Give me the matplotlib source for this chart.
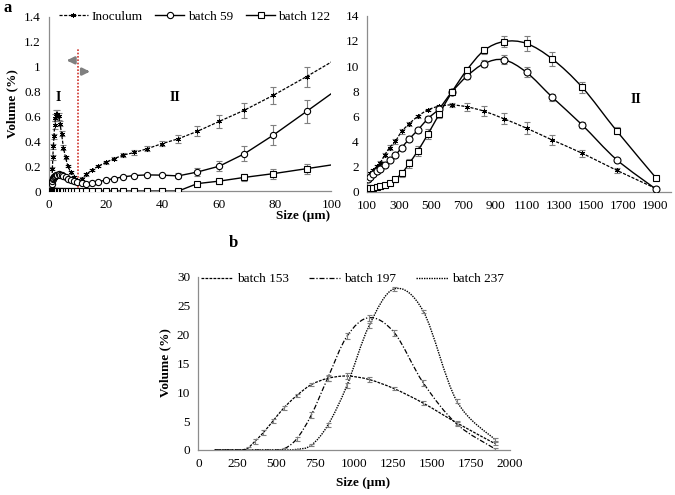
import numpy as np
import matplotlib
matplotlib.use("Agg")
import matplotlib.pyplot as plt
from matplotlib.path import Path
from matplotlib.patches import PathPatch
from matplotlib.lines import Line2D
from matplotlib.ticker import FuncFormatter

plt.rcParams['font.family'] = ['Liberation Serif', 'DejaVu Serif']
plt.rcParams['font.size'] = 9

# --- panel a, left: size bins up to 100 um
size_small = [0.550, 0.631, 0.724, 0.832, 0.955, 1.096, 1.259, 1.445, 1.660, 1.905,
              2.188, 2.512, 2.884, 3.311, 3.802, 4.365, 5.012, 5.754, 6.607, 7.586,
              8.710, 10.00, 11.48, 13.18, 15.14, 17.38, 19.95, 22.91, 26.30, 30.20,
              34.67, 39.81, 45.71, 52.48, 60.26, 69.18, 79.43, 91.20, 104.7]
inoc_small = [0, 0, 0, 0.01, 0.10, 0.18, 0.27, 0.36, 0.44, 0.53,
              0.59, 0.62, 0.62, 0.60, 0.54, 0.46, 0.35, 0.27, 0.20, 0.15,
              0.11, 0.09, 0.10, 0.135, 0.17, 0.20, 0.23, 0.26, 0.29, 0.31,
              0.34, 0.38, 0.42, 0.48, 0.56, 0.65, 0.77, 0.92, 1.10]
b59_small = [0, 0, 0, 0.01, 0.06, 0.08, 0.095, 0.105, 0.115, 0.12,
             0.125, 0.13, 0.133, 0.135, 0.133, 0.128, 0.12, 0.11, 0.10, 0.09,
             0.08, 0.07, 0.062, 0.06, 0.067, 0.075, 0.088, 0.10, 0.115, 0.125,
             0.13, 0.128, 0.122, 0.153, 0.20, 0.30, 0.45, 0.64, 0.86]
b122_small = [0] * 33 + [0.06, 0.08, 0.11, 0.14, 0.18, 0.226]
inoc_small_err = [0, 0, 0, 0, 0.01, 0.01, 0.02, 0.02, 0.02, 0.03,
                  0.03, 0.03, 0.03, 0.03, 0.02, 0.02, 0.02, 0.01, 0.01, 0.01,
                  0.01, 0.01, 0.01, 0.01, 0.01, 0.01, 0.01, 0.01, 0.015, 0.02,
                  0.02, 0.02, 0.03, 0.04, 0.05, 0.06, 0.07, 0.08, 0.09]
b59_small_err = [0] * 32 + [0.02, 0.03, 0.04, 0.06, 0.08, 0.09, 0.09]
b122_small_err = [0] * 33 + [0.015, 0.02, 0.03, 0.04, 0.04, 0.04]

# --- panel a, right and panel b: size bins above 100 um
size_large = [104.7, 120.2, 138.0, 158.5, 182.0, 208.9, 239.9, 275.4, 316.2, 363.1, 416.9,
              478.6, 549.5, 631.0, 724.4, 831.8, 955.0, 1096.5, 1258.9, 1445.4, 1659.6, 1905.5]
inoc_large = [1.2, 1.45, 1.7, 2.0, 2.3, 2.9, 3.5, 4.0, 4.8, 5.4, 6.0,
              6.5, 6.8, 6.9, 6.75, 6.4, 5.8, 5.05, 4.1, 3.05, 1.7, 0.25]
b59_large = [1.0, 1.2, 1.4, 1.6, 1.8, 2.1, 2.5, 2.9, 3.5, 4.2, 4.9,
             5.8, 6.6, 7.95, 9.2, 10.2, 10.5, 9.5, 7.5, 5.3, 2.55, 0.2]
b122_large = [0.25, 0.28, 0.32, 0.36, 0.42, 0.5, 0.7, 1.0, 1.45, 2.25, 3.25,
              4.55, 6.15, 7.95, 9.7, 11.25, 11.95, 11.8, 10.55, 8.3, 4.85, 1.1]
inoc_large_err = [0.1, 0.1, 0.1, 0.1, 0.15, 0.15, 0.2, 0.2, 0.2, 0.15, 0.1,
                  0.1, 0.1, 0.15, 0.3, 0.4, 0.45, 0.5, 0.4, 0.3, 0.2, 0.1]
b59_large_err = [0.1, 0.1, 0.1, 0.1, 0.1, 0.1, 0.1, 0.15, 0.15, 0.2, 0.2,
                 0.25, 0.2, 0.2, 0.2, 0.25, 0.35, 0.4, 0.3, 0.25, 0.15, 0.1]
b122_large_err = [0.05, 0.05, 0.05, 0.05, 0.05, 0.1, 0.1, 0.2, 0.3, 0.35, 0.4,
                  0.4, 0.3, 0.2, 0.2, 0.3, 0.45, 0.6, 0.55, 0.45, 0.3, 0.15]

b153 = [0, 0, 0, 0, 0, 0, 0, 0, 0.3, 1.5, 3.0,
        5.0, 7.3, 9.4, 11.3, 12.4, 12.8, 12.2, 10.6, 8.1, 4.7, 1.1]
b197 = [0, 0, 0, 0, 0, 0, 0, 0, 0, 0, 0,
        0, 0.2, 1.9, 6.0, 12.5, 19.7, 22.9, 20.3, 11.6, 4.5, 0.2]
b237 = [0, 0, 0, 0, 0, 0, 0, 0, 0, 0, 0,
        0, 0, 0.1, 0.8, 4.3, 11.2, 21.5, 27.9, 24.0, 8.5, 1.8]
b153_err = [0, 0, 0, 0, 0, 0, 0, 0, 0.2, 0.4, 0.4,
            0.4, 0.3, 0.3, 0.3, 0.4, 0.5, 0.4, 0.3, 0.3, 0.3, 0.2]
b197_err = [0, 0, 0, 0, 0, 0, 0, 0, 0, 0, 0,
            0, 0.2, 0.3, 0.5, 0.5, 0.5, 0.5, 0.5, 0.5, 0.4, 0.2]
b237_err = [0, 0, 0, 0, 0, 0, 0, 0, 0, 0, 0,
            0, 0, 0.1, 0.2, 0.3, 0.4, 0.4, 0.3, 0.3, 0.3, 0.2]

SPINE = '#8c8c8c'
ERR = '#7f7f7f'
star = (6, 2, 0)


def smooth_path(x, y):
    # catmull-rom style bezier through the points (like excel smoothed lines)
    pts = np.column_stack([x, y]).astype(float)
    n = len(pts)
    verts = [pts[0]]
    codes = [Path.MOVETO]
    for i in range(n - 1):
        p0 = pts[i - 1] if i > 0 else pts[i]
        p1, p2 = pts[i], pts[i + 1]
        p3 = pts[i + 2] if i + 2 < n else pts[i + 1]
        verts += [p1 + (p2 - p0) / 6, p2 - (p3 - p1) / 6, p2]
        codes += [Path.CURVE4] * 3
    return Path(verts, codes)


def err_bars(ax, x, y, e, cap=2):
    x, y, e = np.array(x), np.array(y), np.array(e)
    m = e > 0
    ax.errorbar(x[m], y[m], yerr=e[m], fmt='none', ecolor=ERR, elinewidth=0.8,
                capsize=cap, capthick=0.8, zorder=2)


def style_axes(ax):
    for s in ['top', 'right']:
        ax.spines[s].set_visible(False)
    for s in ['left', 'bottom']:
        ax.spines[s].set_color(SPINE)
        ax.spines[s].set_linewidth(0.9)
    ax.tick_params(length=0, labelsize=9.5, pad=6)


fig = plt.figure(figsize=(6.75, 4.95), dpi=100)

# ---------------- panel a left
ax1 = fig.add_axes([0.073, 0.614, 0.418, 0.352])
style_axes(ax1)
err_bars(ax1, size_small, inoc_small, inoc_small_err)
err_bars(ax1, size_small, b59_small, b59_small_err)
err_bars(ax1, size_small, b122_small, b122_small_err)
ax1.plot(size_small, inoc_small, color='black', ls=(0, (2.5, 1.2)), lw=0.9,
         marker=star, ms=3.5, mew=0.7, zorder=3)
ax1.plot(size_small, b59_small, color='black', lw=1, marker='o', ms=4.5,
         mfc='white', mec='black', mew=0.8, zorder=3)
ax1.plot(size_small, b122_small, color='black', lw=1, marker='s', ms=4.2,
         mfc='white', mec='black', mew=0.8, zorder=3)
ax1.set_xlim(0, 100)
ax1.set_ylim(0, 1.4)
ax1.set_xticks(np.arange(0, 101, 20))
ax1.set_yticks(np.arange(0, 1.41, 0.2))
ax1.yaxis.set_major_formatter(FuncFormatter(lambda v, p: f'{v:g}'))
ax1.plot([10.2, 10.2], [0, 1.14], color='#d0342c', ls=(0, (1, 1)), lw=1.2, zorder=1)
ax1.annotate('', xy=(5.2, 1.05), xytext=(9.2, 1.05),
             arrowprops=dict(arrowstyle='-|>', color='#808080', lw=2, mutation_scale=10))
ax1.annotate('', xy=(15.4, 0.96), xytext=(11.4, 0.96),
             arrowprops=dict(arrowstyle='-|>', color='#808080', lw=2, mutation_scale=10))
ax1.text(3.2, 0.75, 'I', fontsize=10, fontweight='bold', ha='center', va='center')
ax1.text(44.5, 0.75, 'II', fontsize=10, fontweight='bold', ha='center', va='center')

handles = [Line2D([], [], color='black', ls=(0, (2.5, 1.2)), lw=0.9, marker=star, ms=3.5, mew=0.7),
           Line2D([], [], color='black', lw=1, marker='o', ms=4.5, mfc='white', mew=0.8),
           Line2D([], [], color='black', lw=1, marker='s', ms=4.2, mfc='white', mew=0.8)]
ax1.legend(handles, ['Inoculum', 'batch 59', 'batch 122'], loc='center', ncol=3,
           bbox_to_anchor=(0.515, 1.0), frameon=False, fontsize=9.5, handlelength=2.2,
           handletextpad=0.25, columnspacing=1.0)

# ---------------- panel a right
ax2 = fig.add_axes([0.544, 0.613, 0.450, 0.355])
style_axes(ax2)
err_bars(ax2, size_large, inoc_large, inoc_large_err)
err_bars(ax2, size_large, b59_large, b59_large_err)
err_bars(ax2, size_large, b122_large, b122_large_err)
ax2.add_patch(PathPatch(smooth_path(size_large, inoc_large), fill=False, ec='black',
                        lw=0.9, ls=(0, (2.5, 1.2)), zorder=3))
ax2.add_patch(PathPatch(smooth_path(size_large, b59_large), fill=False, ec='black', lw=1, zorder=3))
ax2.add_patch(PathPatch(smooth_path(size_large, b122_large), fill=False, ec='black', lw=1, zorder=3))
ax2.plot(size_large, inoc_large, ls='none', color='black', marker=star, ms=3.5, mew=0.7, zorder=4)
ax2.plot(size_large, b59_large, ls='none', marker='o', ms=5, mfc='white', mec='black',
         mew=0.8, zorder=4)
ax2.plot(size_large, b122_large, ls='none', marker='s', ms=4.8, mfc='white', mec='black',
         mew=0.8, zorder=4)
ax2.set_xlim(100, 2000)
ax2.set_ylim(0, 14)
ax2.set_xticks(np.arange(100, 2000, 200))
ax2.set_yticks(np.arange(0, 15, 2))
ax2.text(1780, 7.3, 'II', fontsize=10, fontweight='bold', ha='center', va='center')

# ---------------- panel b
ax3 = fig.add_axes([0.294, 0.091, 0.461, 0.350])
style_axes(ax3)
err_bars(ax3, size_large, b153, b153_err, cap=1.8)
err_bars(ax3, size_large, b197, b197_err, cap=1.8)
err_bars(ax3, size_large, b237, b237_err, cap=1.8)
ls153 = (0, (2.2, 1.0))
ls197 = (0, (4, 1.5, 1, 1.5))
ls237 = (0, (1, 0.8))
ax3.add_patch(PathPatch(smooth_path(size_large, b153), fill=False, ec='black', lw=0.9, ls=ls153))
ax3.add_patch(PathPatch(smooth_path(size_large, b197), fill=False, ec='black', lw=0.9, ls=ls197))
ax3.add_patch(PathPatch(smooth_path(size_large, b237), fill=False, ec='black', lw=1.0, ls=ls237))
ax3.set_xlim(0, 2000)
ax3.set_ylim(0, 30)
ax3.set_xticks(np.arange(0, 2001, 250))
ax3.set_yticks(np.arange(0, 31, 5))
handles3 = [Line2D([], [], color='black', lw=0.9, ls=ls153),
            Line2D([], [], color='black', lw=0.9, ls=ls197),
            Line2D([], [], color='black', lw=1.0, ls=ls237)]
ax3.legend(handles3, ['batch 153', 'batch 197', 'batch 237'], loc='center', ncol=3,
           bbox_to_anchor=(0.495, 0.985), frameon=False, fontsize=9.5, handlelength=2.4,
           handletextpad=0.3, columnspacing=1.5)

# ---------------- labels
bold = dict(fontweight='bold', fontsize=9.5)
fig.text(12 / 675, 1 - 104 / 495, 'Volume (%)', rotation=90, ha='center', va='center', **bold)
fig.text(303 / 675, 1 - 216 / 495, 'Size (µm)', ha='center', va='center', **bold)
fig.text(165 / 675, 1 - 363 / 495, 'Volume (%)', rotation=90, ha='center', va='center', **bold)
fig.text(363 / 675, 1 - 483 / 495, 'Size (µm)', ha='center', va='center', **bold)
fig.text(8 / 675, 1 - 8 / 495, 'a', ha='center', va='center', fontsize=12, fontweight='bold')
fig.text(233 / 675, 1 - 243 / 495, 'b', ha='center', va='center', fontsize=12, fontweight='bold')

fig.savefig('out.png', dpi=100)
